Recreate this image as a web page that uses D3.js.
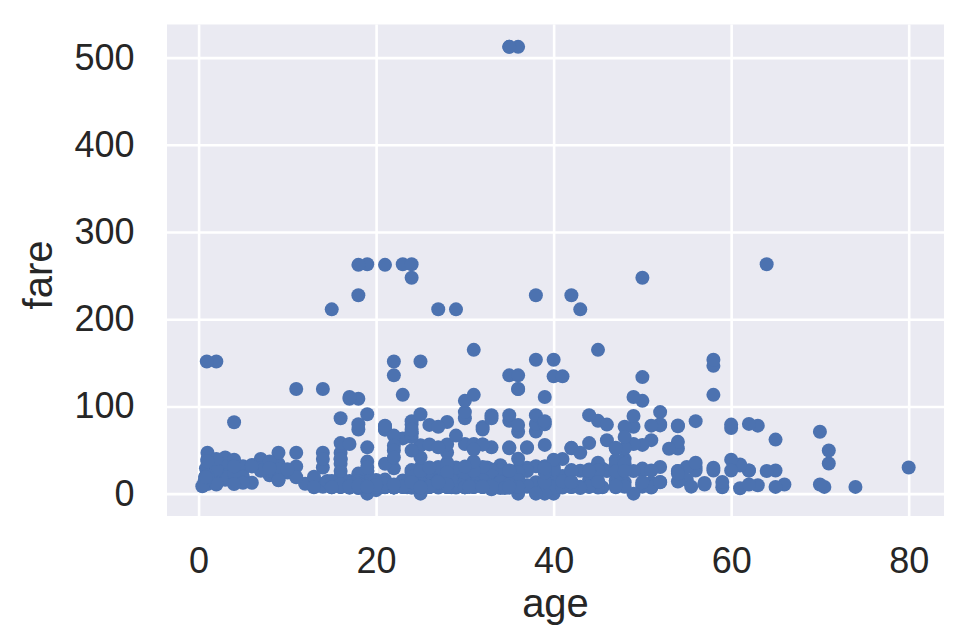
<!DOCTYPE html>
<html><head><meta charset="utf-8">
<script src="https://cdn.jsdelivr.net/npm/d3@7"></script>
<style>
body{margin:0;background:#fff;}
svg{display:block;}
text{font-family:"Liberation Sans", Arial, Helvetica, sans-serif;}
</style>
</head><body>
<svg id="chart" width="966" height="644"></svg>
<script>
// Titanic passengers: age vs fare
const ages = [
22,38,26,35,35,54,2,27,14,4,
58,20,39,14,55,2,31,35,34,15,
28,8,38,19,40,66,28,42,21,18,
14,40,27,3,19,18,7,21,49,29,
65,21,28.5,5,11,22,38,45,4,29,
19,17,26,32,16,21,26,32,25,0.83,
30,22,29,28,17,33,16,23,24,29,
20,46,26,59,71,23,34,34,28,21,
33,37,28,21,38,47,14.5,22,20,17,
21,70.5,29,24,2,21,32.5,32.5,54,12,
24,45,33,20,47,29,25,23,19,37,
16,24,22,24,19,18,19,27,9,36.5,
42,51,22,55.5,40.5,51,16,30,44,40,
26,17,1,9,45,28,61,4,1,21,
56,18,50,30,36,9,1,4,45,40,
36,32,19,19,3,44,58,42,24,28,
34,45.5,18,2,32,26,16,40,24,35,
22,30,31,27,42,32,30,16,27,51,
38,22,19,20.5,18,35,29,59,5,24,
44,8,19,33,29,22,30,44,25,24,
37,54,29,62,30,41,29,30,35,50,
3,52,40,36,16,25,58,35,25,41,
37,63,45,7,35,65,28,16,19,33,
30,22,42,22,26,19,36,24,24,23.5,
2,50,19,0.92,17,30,30,24,18,26,
28,43,26,24,54,31,40,22,27,30,
22,36,61,36,31,16,45.5,38,16,29,
41,45,45,2,24,28,25,36,24,40,
3,42,23,15,25,28,22,38,40,29,
45,35,30,60,24,25,18,19,22,3,
22,27,20,19,42,1,32,35,18,1,
36,17,36,21,28,23,24,22,31,46,
23,28,39,26,21,28,20,34,51,3,
21,33,44,34,18,30,10,21,29,28,
18,28,19,17,32,28,42,50,14,21,
24,64,31,45,20,25,28,4,13,34,
5,52,36,30,49,29,65,50,48,34,
47,48,38,56,0.75,38,33,23,22,34,
29,22,2,9,50,63,25,35,58,30,
9,21,55,71,21,54,25,24,17,21,
37,16,18,33,28,26,29,36,54,24,
47,34,36,32,30,22,44,40.5,50,39,
23,2,17,30,7,45,30,22,36,9,
11,32,50,64,19,33,8,17,27,22,
22,62,48,39,36,40,28,24,19,29,
32,62,53,36,16,19,34,39,32,25,
39,54,36,18,47,60,22,35,52,47,
37,36,49,49,24,44,35,36,30,27,
22,40,39,35,24,34,26,4,26,27,
42,20,21,21,61,57,21,26,80,51,
32,9,28,32,31,41,20,24,2,0.75,
48,19,56,23,18,18,21,24,32,23,
58,50,40,47,36,20,32,25,43,40,
31,70,31,18,24.5,18,43,36,27,20,
14,60,25,14,19,18,15,31,4,25,
60,52,44,49,42,18,35,18,25,26,
39,45,42,22,24,48,29,52,19,38,
27,33,6,17,34,50,27,20,30,25,
25,29,11,23,23,28.5,48,35,36,21,
24,31,70,16,30,19,31,4,6,33,
23,48,0.67,28,18,34,33,41,20,36,
16,51,30.5,32,24,48,57,54,18,5,
43,13,17,29,25,25,18,8,1,46,
16,25,39,49,31,30,30,34,31,11,
0.42,27,31,39,18,39,33,26,39,35,
6,30.5,23,31,43,10,52,27,38,27,
2,1,62,15,0.83,23,18,39,21,32,
20,16,30,34.5,17,42,35,28,4,74,
9,16,44,18,45,51,24,41,21,48,
24,42,27,31,4,26,47,33,47,28,
15,20,19,56,25,33,22,28,25,39,
27,19,26,32
];
const fares = [
7.25,71.2833,7.925,53.1,8.05,51.8625,21.075,11.1333,30.0708,16.7,
26.55,8.05,31.275,7.8542,16,29.125,18,26,13,8.0292,
35.5,21.075,31.3875,263,27.7208,10.5,82.1708,52,8.05,18,
11.2417,9.475,21,41.5792,7.8792,17.8,39.6875,7.8,76.7292,26,
61.9792,10.5,7.2292,27.75,46.9,7.2292,80,83.475,27.9,10.5,
8.1583,7.925,8.6625,10.5,46.9,73.5,14.4542,56.4958,7.65,29,
12.475,9,9.5,47.1,10.5,15.85,34.375,263,8.05,8.05,
7.8542,61.175,20.575,7.25,34.6542,63.3583,23,26,7.8958,77.2875,
8.6542,7.925,7.8958,7.65,7.8958,52,14.4542,8.05,9.825,14.4583,
7.925,7.75,21,247.5208,31.275,73.5,30.0708,13,77.2875,11.2417,
7.1417,6.975,7.8958,7.05,14.5,26,13,15.0458,26.2833,53.1,
9.2167,79.2,7.75,15.85,6.75,11.5,36.75,7.7958,34.375,26,
13,12.525,66.6,8.05,14.5,61.3792,7.7333,8.05,16.1,15.75,
7.775,8.6625,39.6875,20.525,27.9,56.4958,33.5,29.125,11.1333,7.925,
30.6958,7.8542,28.7125,13,0,31.3875,39,22.025,26.55,15.5,
7.8958,13,13,7.8542,26,27.7208,146.5208,8.4042,13,9.5,
6.4958,7.225,8.05,10.4625,15.85,18.7875,7.75,31,7.05,21,
7.25,13,113.275,7.925,27,76.2917,10.5,8.05,13,8.05,
90,9.35,10.5,7.25,13,83.475,7.775,13.5,31.3875,10.5,
26,26.25,10.5,12.275,10.5,7.125,7.225,90,7.775,14.5,
52.5542,26,10.4625,26.55,16.1,20.2125,15.2458,86.5,512.3292,26,
31.3875,79.65,0,10.5,39.6875,7.775,153.4625,135.6333,0,19.5,
29.7,77.9583,7.75,29.125,20.25,7.75,7.8542,9.5,8.05,8.6625,
9.5,7.8958,13,7.75,78.85,91.0792,12.875,8.85,7.8958,7.2292,
151.55,247.5208,0,151.55,108.9,24,56.9292,83.1583,262.375,26,
7.8958,26.25,7.8542,26,14,164.8667,134.5,7.25,7.8958,12.35,
29,135.6333,6.2375,13,20.525,57.9792,28.5,153.4625,18,66.6,
134.5,8.05,35.5,26,263,13,13,13,13,13,
15.9,8.6625,9.225,7.2292,17.8,9.5,55,13,27.9,27.7208,
14.4542,7.05,7.25,75.25,69.3,55.4417,6.4958,8.05,135.6333,21.075,
7.25,211.5,4.0125,7.775,227.525,15.7417,7.925,52,73.5,46.9,
13,12,120,7.7958,7.925,113.275,16.7,7.7958,7.8542,26,
10.5,12.65,7.925,8.05,9.825,15.85,8.6625,21,7.75,18.75,
7.775,90,7.925,32.5,13,13,24.15,7.7333,7.875,14.4,
20.2125,26,26,7.125,8.05,26.55,26,55.9,120,34.375,
18.75,263,10.5,26.25,9.5,7.775,13,81.8583,19.5,26.55,
19.2583,30.5,27.75,27.75,89.1042,7.8958,26.55,10.5,26.55,8.05,
38.5,13,7.05,26.55,19.2583,8.6625,27.75,13.7917,9.8375,21,
7.0458,7.5208,12.2875,46.9,8.05,9.5875,91.0792,90,29.7,8.05,
15.9,7.25,30.5,49.5042,8.05,78.2667,151.55,7.7958,8.6625,7.75,
9.5875,86.5,108.9,26,22.525,56.4958,7.75,26.2875,59.4,7.4958,
34.0208,10.5,26,7.8958,93.5,7.8958,57.9792,7.75,10.5,7.925,
11.5,26,7.2292,8.6625,26.25,26.55,106.425,49.5,71,31.275,
31.275,26,106.425,26,26,20.525,36.75,110.8833,26,7.225,
7.775,26.55,39.6,79.65,17.4,7.8958,13.5,24.15,7.8958,21.075,
7.8542,10.5,51.4792,26.3875,8.05,14.5,13,55.9,7.925,30,
110.8833,26,40.125,79.65,15,79.2,8.05,7.125,78.2667,7.25,
26,24.15,0,56.9292,27,8.05,26.55,15.55,7.8958,30.5,
41.5792,153.4625,31.275,8.05,65,14.4,16.1,39,10.5,14.4542,
52.5542,15.7417,7.8542,16.1,32.3208,12.35,77.9583,7.8958,30,7.0542,
30.5,27.9,13,7.925,26.25,39.6875,7.8542,69.3,27.9,19.2583,
76.7292,7.8958,35.5,7.55,23,6.75,8.4333,73.5,15.5,13,
113.275,133.65,7.225,25.5875,7.4958,7.925,73.5,13,8.05,39,
52,10.5,13,7.775,8.05,9.8417,46.9,512.3292,76.7292,9.225,
46.9,39,41.5792,39.6875,10.1708,7.7958,211.3375,57,13.4167,7.225,
26.55,13.5,8.05,110.8833,7.65,227.525,26.2875,14.4542,7.7417,7.8542,
26,13.5,26.2875,151.55,49.5042,52,9.4833,13,7.65,227.525,
10.5,7.775,33,7.0542,13,13,53.1,8.6625,21,26,
7.925,211.3375,18.7875,13,13,16.1,34.375,512.3292,78.85,262.375,
16.1,7.925,71,20.25,13,53.1,7.75,23,12.475,9.5,
7.8958,65,14.5,7.7958,11.5,8.05,86.5,7.125,7.2292,120,
7.775,77.9583,7.75,8.3625,9.5,7.8542,10.5,23,7.75,12.475,
211.3375,7.2292,57,30,7.05,7.25,7.4958,29.125,20.575,79.2,
26,7.8958,13,25.9292,8.6833,7.2292,24.15,13,26.25,120,
8.5167,6.975,7.775,0,7.775,13,53.1,7.8875,24.15,10.5,
31.275,8.05,7.925,37.0042,6.45,27.9,93.5,8.6625,0,12.475,
39.6875,37.0042,80,14.4542,18.75,7.8542,8.3,83.1583,8.6625,56.4958,
7.925,10.5,31,6.4375,8.6625,7.55,7.8958,33,31.275,7.775,
15.2458,39.4,26,9.35,164.8667,26.55,19.2583,14.1083,11.5,25.9292,
13,13,13.8583,50.4958,11.1333,7.8958,52.5542,5,9,24,
7.225,9.8458,7.8958,83.1583,26,7.8958,10.5167,10.5,7.05,29.125,
13,30,30,7.75
];
const xTicks = [0, 20, 40, 60, 80];
const yTicks = [0, 100, 200, 300, 400, 500];
const xTitle = "age";
const yTitle = "fare";

const W = 966, H = 644;
const box = {left: 167, right: 944, top: 24.5, bottom: 516};
const svg = d3.select("#chart");

const xMin = d3.min(ages), xMax = d3.max(ages);
const yMin = d3.min(fares), yMax = d3.max(fares);
const xPad = (xMax - xMin) * 0.05, yPad = (yMax - yMin) * 0.05;
const x = d3.scaleLinear().domain([xMin - xPad, xMax + xPad]).range([box.left, box.right]);
const y = d3.scaleLinear().domain([yMin - yPad, yMax + yPad]).range([box.bottom, box.top]);

// plot background
svg.append("rect")
  .attr("x", box.left).attr("y", box.top)
  .attr("width", box.right - box.left).attr("height", box.bottom - box.top)
  .attr("fill", "#EAEAF2");

// grid
const gx = svg.append("g").attr("transform", `translate(0,${box.bottom})`)
  .call(d3.axisBottom(x).tickValues(xTicks).tickSize(-(box.bottom - box.top)).tickFormat(""));
const gy = svg.append("g").attr("transform", `translate(${box.left},0)`)
  .call(d3.axisLeft(y).tickValues(yTicks).tickSize(-(box.right - box.left)).tickFormat(""));
[gx, gy].forEach(g => {
  g.select(".domain").remove();
  g.selectAll("line").attr("stroke", "#ffffff").attr("stroke-width", 2.6);
});

// points
const pts = ages.map((a, i) => [a, fares[i]]);
svg.append("g").selectAll("circle").data(pts).enter().append("circle")
  .attr("cx", d => x(d[0])).attr("cy", d => y(d[1]))
  .attr("r", 7).attr("fill", "#4C72B0");

// tick labels
const lx = svg.append("g").attr("transform", `translate(0,${box.bottom})`)
  .call(d3.axisBottom(x).tickValues(xTicks).tickSize(0).tickPadding(31.4).tickFormat(d3.format("d")));
const ly = svg.append("g").attr("transform", `translate(${box.left},0)`)
  .call(d3.axisLeft(y).tickValues(yTicks).tickSize(0).tickPadding(32.5).tickFormat(d3.format("d")));
[lx, ly].forEach(g => {
  g.select(".domain").remove();
  g.selectAll("text").attr("fill", "#262626").style("font-size", "36px")
    .style("font-family", '"Liberation Sans", Arial, sans-serif');
});

// axis titles
svg.append("text").attr("x", (box.left + box.right) / 2).attr("y", 617)
  .attr("text-anchor", "middle").attr("fill", "#262626").style("font-size", "40px").text(xTitle);
svg.append("text").attr("transform", `translate(52,275) rotate(-90)`)
  .attr("text-anchor", "middle").attr("fill", "#262626").style("font-size", "40px").text(yTitle);
</script>
</body></html>
